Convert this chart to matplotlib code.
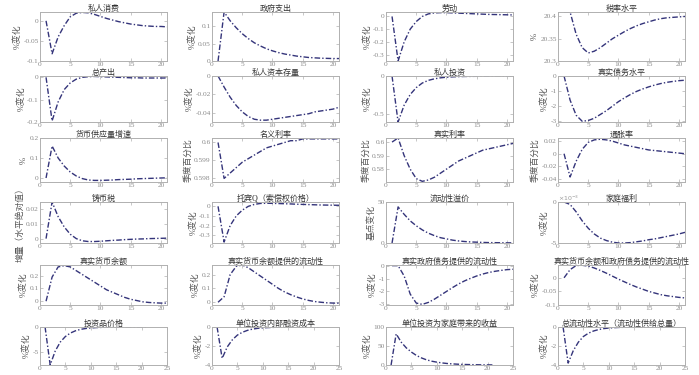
import matplotlib
matplotlib.use("Agg")
import matplotlib.pyplot as plt
import numpy as np

plt.rcParams['font.family'] = ['Liberation Serif', 'Noto Sans CJK SC']
plt.rcParams['axes.unicode_minus'] = False

t = np.arange(1, 22)

titles = ['私人消费', '政府支出', '劳动', '税率水平',
          '总产出', '私人资本存量', '私人投资', '真实债务水平',
          '货币供应量增速', '名义利率', '真实利率', '通胀率',
          '铸币税', '托宾Q（索偿权价格）', '流动性溢价', '家庭福利',
          '真实货币余额', '真实货币余额提供的流动性', '真实政府债务提供的流动性', '真实货币余额和政府债务提供的流动性',
          '投资品价格', '单位投资内部融资成本', '单位投资为家庭带来的收益', '总流动性水平（流动性供给总量）']

ylabels = ['%变化', '%变化', '%变化', '%',
           '%变化', '%变化', '%变化', '%变化',
           '%', '季度百分比', '季度百分比', '季度百分比',
           '增量（水平绝对值）', '%变化', '基点变化', '%变化',
           '%变化', '%变化', '%变化', '%变化',
           '%变化', '%变化', '%变化', '%变化']

series = [
    [0, -0.082, -0.04, -0.012, 0.01, 0.019, 0.021, 0.02, 0.016, 0.011, 0.006, 0.002, -0.002, -0.005, -0.008, -0.01, -0.012, -0.013, -0.014, -0.014, -0.015],
    [0, 0.14, 0.115, 0.095, 0.078, 0.064, 0.052, 0.043, 0.035, 0.029, 0.024, 0.02, 0.017, 0.014, 0.012, 0.01, 0.009, 0.008, 0.0075, 0.007, 0.007],
    [0, -0.35, -0.2, -0.1, -0.04, 0.0, 0.02, 0.028, 0.03, 0.03, 0.028, 0.026, 0.024, 0.022, 0.02, 0.018, 0.016, 0.015, 0.014, 0.013, 0.012],
    [20.41, 20.41, 20.36, 20.33, 20.318, 20.322, 20.33, 20.34, 20.35, 20.358, 20.366, 20.373, 20.379, 20.384, 20.388, 20.392, 20.395, 20.397, 20.398, 20.399, 20.4],
    [0, -0.195, -0.11, -0.055, -0.025, -0.008, 0.0, 0.003, 0.004, 0.003, 0.002, 0.001, 0.0, -0.001, -0.002, -0.002, -0.003, -0.003, -0.003, -0.003, -0.003],
    [0, -0.012, -0.023, -0.032, -0.039, -0.044, -0.047, -0.048, -0.048, -0.047, -0.046, -0.045, -0.044, -0.043, -0.042, -0.041, -0.039, -0.038, -0.037, -0.036, -0.034],
    [0, -0.6, -0.38, -0.24, -0.15, -0.09, -0.055, -0.035, -0.022, -0.014, -0.009, -0.006, -0.004, -0.003, -0.002, -0.001, -0.001, 0, 0, 0, 0],
    [0, -1.6, -2.6, -3.0, -2.95, -2.8, -2.55, -2.3, -2.0, -1.7, -1.45, -1.22, -1.02, -0.86, -0.72, -0.6, -0.5, -0.42, -0.36, -0.31, -0.28],
    [0, 0.16, 0.1, 0.06, 0.03, 0.01, -0.003, -0.01, -0.012, -0.012, -0.011, -0.01, -0.008, -0.007, -0.006, -0.004, -0.003, -0.002, -0.001, 0.0, 0.001],
    [0.6, 0.598, 0.5983, 0.5986, 0.5989, 0.5991, 0.5993, 0.5995, 0.5997, 0.5998, 0.5999, 0.6, 0.6001, 0.6001, 0.6002, 0.6002, 0.6002, 0.6002, 0.6002, 0.6002, 0.6002],
    [0.6, 0.603, 0.59, 0.58, 0.573, 0.571, 0.572, 0.574, 0.577, 0.58, 0.583, 0.586, 0.588, 0.59, 0.592, 0.594, 0.595, 0.596, 0.597, 0.598, 0.599],
    [0, -0.037, -0.012, 0.007, 0.018, 0.022, 0.023, 0.022, 0.02, 0.017, 0.014, 0.012, 0.01, 0.008, 0.006, 0.005, 0.004, 0.003, 0.002, 0.001, 0.0],
    [0, 0.025, 0.015, 0.008, 0.003, 0.0, -0.0015, -0.002, -0.002, -0.0018, -0.0015, -0.0012, -0.001, -0.0007, -0.0005, -0.0003, -0.0002, 0.0, 0.0001, 0.0002, 0.0003],
    [0, -0.37, -0.2, -0.1, -0.04, 0.0, 0.02, 0.03, 0.032, 0.031, 0.029, 0.027, 0.025, 0.022, 0.02, 0.018, 0.016, 0.014, 0.013, 0.012, 0.011],
    [0, 44, 35, 27, 21, 16, 12, 9, 6.5, 5, 3.5, 2.5, 1.8, 1.3, 1.0, 0.7, 0.5, 0.4, 0.3, 0.2, 0.2],
    [0, -0.0003, -0.0012, -0.0023, -0.0032, -0.0039, -0.0044, -0.0047, -0.0049, -0.005, -0.005, -0.00495, -0.00485, -0.00475, -0.0046, -0.0045, -0.00435, -0.0042, -0.00405, -0.0039, -0.0037],
    [0, 0.19, 0.27, 0.28, 0.27, 0.24, 0.21, 0.18, 0.15, 0.12, 0.09, 0.07, 0.05, 0.03, 0.015, 0.005, -0.005, -0.01, -0.013, -0.015, -0.015],
    [0, 0.04, 0.2, 0.26, 0.27, 0.25, 0.22, 0.19, 0.16, 0.13, 0.1, 0.075, 0.055, 0.038, 0.024, 0.013, 0.005, 0.0, -0.004, -0.006, -0.007],
    [0, 0, -0.8, -2.2, -2.9, -3.0, -2.85, -2.6, -2.3, -2.0, -1.7, -1.42, -1.18, -0.98, -0.8, -0.65, -0.53, -0.44, -0.37, -0.31, -0.28],
    [0, 0.03, 0.045, 0.046, 0.043, 0.036, 0.027, 0.017, 0.006, -0.005, -0.015, -0.025, -0.034, -0.042, -0.05, -0.056, -0.062, -0.066, -0.069, -0.072, -0.074],
    [0, -7.6, -4.8, -3.0, -1.9, -1.2, -0.75, -0.47, -0.3, -0.19, -0.12, -0.08, -0.05, -0.03, -0.02, -0.01, 0, 0, 0, 0, 0],
    [0, -3.3, -2.1, -1.35, -0.85, -0.55, -0.35, -0.22, -0.14, -0.09, -0.06, -0.04, -0.025, -0.015, -0.01, -0.006, 0, 0, 0, 0, 0],
    [0, 82, 60, 45, 34, 25, 18.5, 13.5, 10, 7.5, 5.5, 4, 3, 2.2, 1.6, 1.2, 0.9, 0.6, 0.4, 0.3, 0.2],
    [0, -3.8, -2.5, -1.6, -1.0, -0.65, -0.42, -0.27, -0.17, -0.11, -0.07, -0.045, -0.03, -0.02, -0.01, 0, 0, 0, 0, 0, 0],
]

ylims = [(-0.1, 0.022), (0, 0.14), (-0.35, 0.035), (20.3, 20.41),
         (-0.2, 0.006), (-0.05, 0), (-0.6, 0.002), (-3.05, 0),
         (-0.02, 0.2), (0.5978, 0.60025), (0.5705, 0.603), (-0.045, 0.025),
         (-0.003, 0.025), (-0.38, 0.045), (0, 50), (-0.005, 0),
         (-0.03, 0.285), (-0.02, 0.27), (-3.05, 0.05), (-0.1, 0.047),
         (-7.6, 0), (-4, 0), (0, 100), (-4, 0)]

yticks = [[-0.1, -0.05, 0], [0, 0.05, 0.1], [-0.3, -0.2, -0.1, 0], [20.3, 20.35, 20.4],
          [-0.2, -0.1, 0], [-0.04, -0.02, 0], [-0.5, 0], [-3, -2, -1, 0],
          [0, 0.1, 0.2], [0.598, 0.599, 0.6], [0.58, 0.59, 0.6], [-0.04, -0.02, 0, 0.02],
          [0, 0.01, 0.02], [-0.3, -0.2, -0.1, 0], [0, 50], [-0.005, 0],
          [0, 0.1, 0.2], [0, 0.1, 0.2], [-3, -2, -1, 0], [-0.1, -0.05, 0],
          [-5, 0], [-4, -2, 0], [0, 50, 100], [-4, -2, 0]]

fig = plt.figure(figsize=(6.99, 3.75), dpi=100)
W, H = 699.0, 375.0
lefts = [40, 212, 386, 558]
width = 127
rows = [(12, 61), (76, 122), (138, 182), (202, 243), (265, 305), (327, 365)]

grey = '#9a9a9a'
for i in range(24):
    r, c = divmod(i, 4)
    top, bot = rows[r]
    ax = fig.add_axes([lefts[c] / W, 1 - bot / H, width / W, (bot - top) / H])
    ax.plot(t, series[i], color='#34347a', lw=1.0, linestyle=(0, (4, 1.5, 1, 1.5)))
    if r == 5:
        ax.set_xlim(0, 25)
        ax.set_xticks([0, 5, 10, 15, 20, 25])
    else:
        ax.set_xlim(0, 21)
        ax.set_xticks([0, 5, 10, 15, 20])
    ax.set_ylim(*ylims[i])
    ax.set_yticks(yticks[i])
    if i == 15:
        ax.set_yticklabels(['-5', '0'])
        ax.text(0.0, 1.02, r'$\times10^{-3}$', transform=ax.transAxes, fontsize=4.5, color=grey)
    else:
        ax.set_yticklabels(['%g' % v for v in yticks[i]])
    for s in ax.spines.values():
        s.set_color('#b0b0b0')
        s.set_linewidth(0.7)
    ax.tick_params(direction='in', length=2, width=0.5, labelsize=5.3, colors='#b0b0b0',
                   labelcolor='#8a8a8a', pad=1.0, top=True, right=True)
    ax.set_title(titles[i], fontsize=5.8, color='#333333', pad=1.0)
    ax.set_ylabel(ylabels[i], fontsize=6.3, color='#555555', labelpad=1)

fig.savefig('out.png', dpi=100)
